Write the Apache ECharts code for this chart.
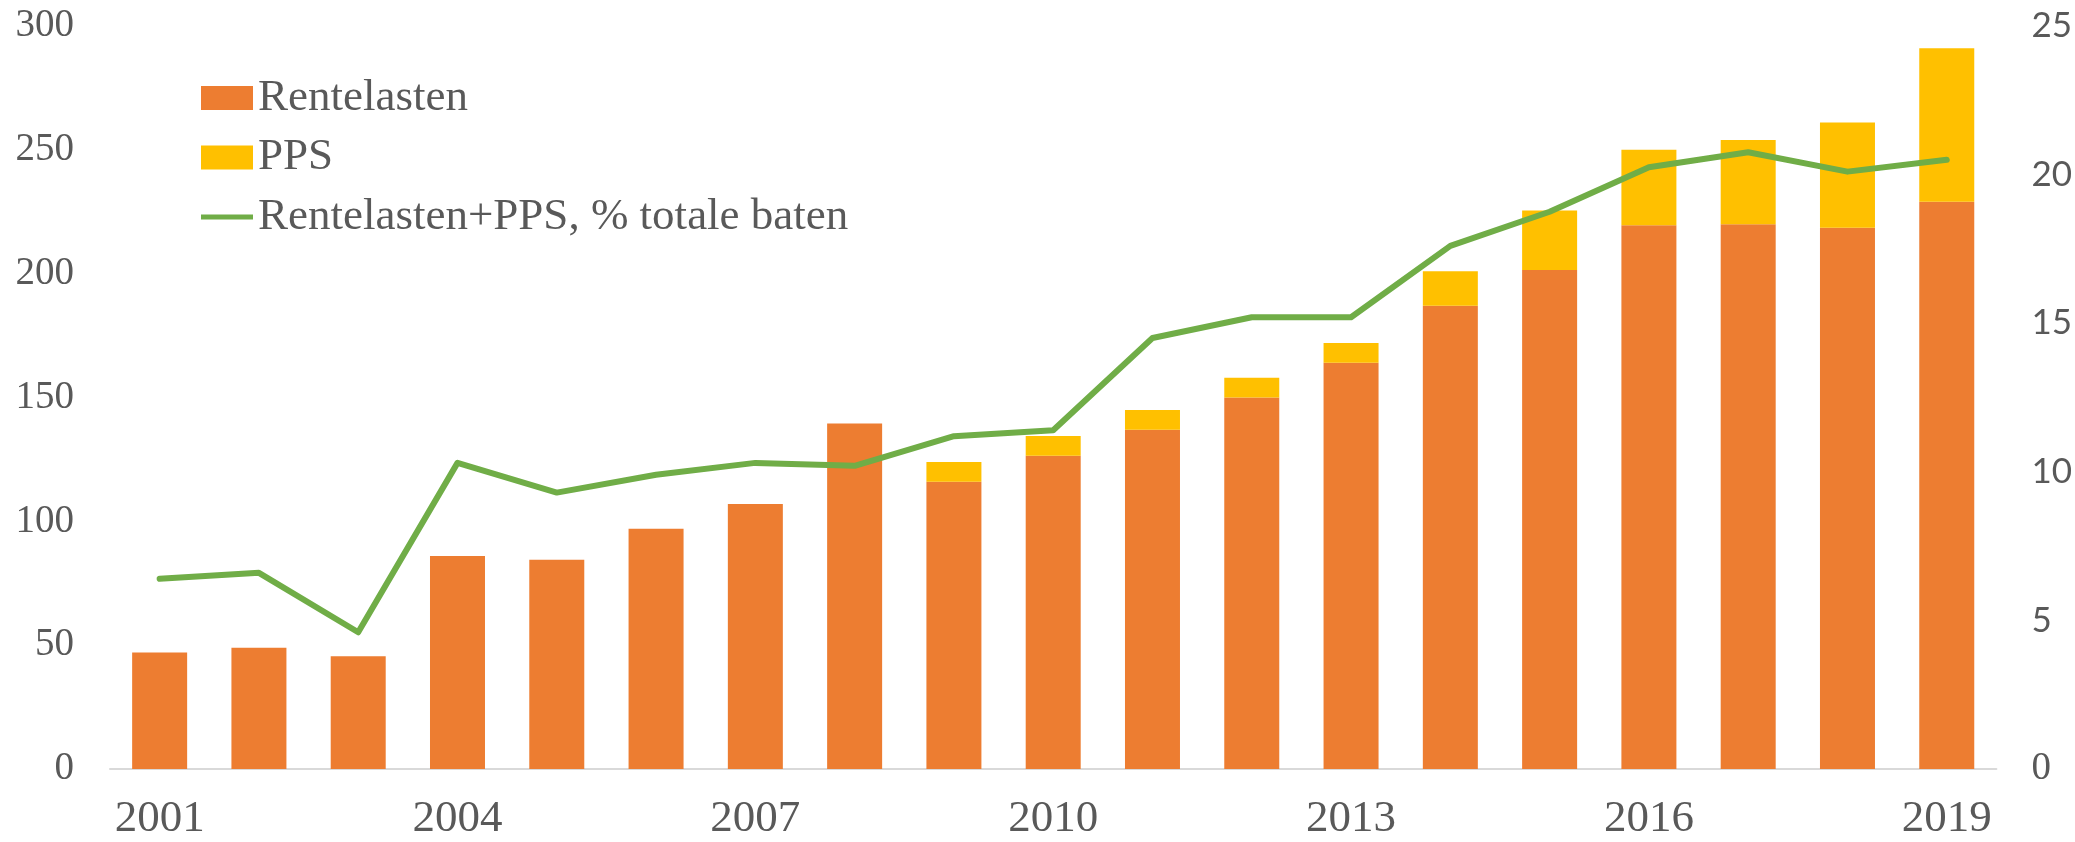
<!DOCTYPE html>
<html>
<head>
    <meta charset="utf-8">
    <title>Rentelasten en PPS</title>
    <style>
        html, body { margin: 0; padding: 0; background: #fff; }
        #chart { width: 2075px; height: 842px; }
    </style>
</head>
<body>
    <div id="chart"></div>
    <script src="https://cdn.jsdelivr.net/npm/echarts@6/dist/echarts.min.js"></script>
    <script>
        // data
        var years = ['2001', '2002', '2003', '2004', '2005', '2006', '2007', '2008', '2009', '2010',
            '2011', '2012', '2013', '2014', '2015', '2016', '2017', '2018', '2019'];
        var rentelasten = [47, 49, 45.5, 86, 84.5, 97, 107, 139.5, 116, 126.5,
            137, 150, 164, 187, 201.5, 219.5, 220, 218.5, 229];
        var pps = [0, 0, 0, 0, 0, 0, 0, 0, 8, 8,
            8, 8, 8, 14, 24, 30.5, 34, 42.5, 62];
        var pctBaten = [6.4, 6.6, 4.6, 10.3, 9.3, 9.9, 10.3, 10.2, 11.2, 11.4,
            14.5, 15.2, 15.2, 17.6, 18.75, 20.25, 20.75, 20.1, 20.5];

        var serif = '"Liberation Serif", "DejaVu Serif", serif';
        var grey = '#595959';
        // thin horizontal bar inside a 52x24 box, for the line's legend entry
        var lineIcon = 'path://M0,0L0.01,0M0,9.5L52,9.5L52,14.5L0,14.5ZM0,24L0.01,24';

        var myChart = echarts.init(document.getElementById('chart'));

        var option = {
            animation: false,
            grid: { left: 110, right: 78, top: 26, bottom: 70 },
            legend: {
                orient: 'vertical',
                left: 196,
                top: 68,
                itemWidth: 52,
                itemHeight: 24,
                itemGap: 9.5,
                textStyle: { fontFamily: serif, fontSize: 45, color: grey, lineHeight: 50 },
                data: [
                    { name: 'Rentelasten', icon: 'rect' },
                    { name: 'PPS', icon: 'rect' },
                    { name: 'Rentelasten+PPS, % totale baten', icon: lineIcon }
                ]
            },
            xAxis: {
                type: 'category',
                data: years,
                axisLine: { lineStyle: { color: '#d9d9d9', width: 2 } },
                axisTick: { show: false },
                axisLabel: { interval: 2, fontFamily: serif, fontSize: 45, color: grey, margin: 28 }
            },
            yAxis: [
                {
                    type: 'value',
                    min: 0, max: 300, interval: 50,
                    splitLine: { show: false },
                    axisLabel: { fontFamily: serif, fontSize: 39, color: grey, margin: 36 }
                },
                {
                    type: 'value',
                    min: 0, max: 25, interval: 5,
                    splitLine: { show: false },
                    axisLabel: {
                        margin: 35,
                        fontFamily: 'Lato, "Open Sans", sans-serif',
                        fontSize: 35,
                        color: grey,
                        formatter: function (v) {
                            return v === 0 ? '{s|0}' : String(v);
                        },
                        rich: { s: { fontFamily: serif, fontSize: 39, color: grey } }
                    }
                }
            ],
            series: [
                {
                    name: 'Rentelasten',
                    type: 'bar',
                    stack: 'tot',
                    barWidth: 55,
                    itemStyle: { color: '#ED7D31' },
                    data: rentelasten
                },
                {
                    name: 'PPS',
                    type: 'bar',
                    stack: 'tot',
                    barWidth: 55,
                    itemStyle: { color: '#FFC000' },
                    data: pps
                },
                {
                    name: 'Rentelasten+PPS, % totale baten',
                    type: 'line',
                    yAxisIndex: 1,
                    symbol: 'none',
                    lineStyle: { color: '#70AD47', width: 6, cap: 'round', join: 'round' },
                    itemStyle: { color: '#70AD47' },
                    data: pctBaten
                }
            ]
        };

        myChart.setOption(option);
    </script>
</body>
</html>
